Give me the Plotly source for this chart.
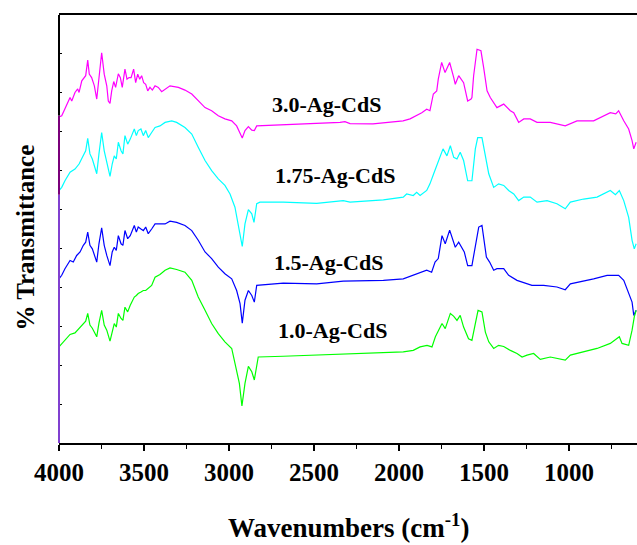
import plotly.graph_objects as go

# ---- data (wavenumber cm^-1, % transmittance with vertical offsets) ----
w_30 = [4000, 3984, 3965, 3935, 3925, 3906, 3890, 3882, 3866, 3851, 3843, 3831, 3822, 3808, 3792, 3778,
        3765, 3749, 3734, 3719, 3710, 3700, 3690, 3678, 3667, 3651, 3639, 3628, 3612, 3600, 3588, 3576,
        3561, 3549, 3537, 3525, 3514, 3502, 3490, 3478, 3465, 3451, 3435, 3416, 3396, 3376, 3347, 3298,
        3259, 3219, 3181, 3141, 3102, 3063, 3024, 2984, 2955, 2935, 2922, 2906, 2886, 2866, 2851, 2837,
        2681, 2484, 2347, 2318, 2288, 2153, 2053, 1976, 1935, 1896, 1866, 1837, 1818, 1798, 1778, 1769,
        1749, 1729, 1702, 1678, 1669, 1649, 1620, 1596, 1576, 1571, 1561, 1541, 1518, 1502, 1482, 1463,
        1434, 1424, 1384, 1345, 1325, 1296, 1266, 1228, 1188, 1110, 1022, 953, 855, 796, 757, 725,
        708, 678, 649, 629, 619, 605]
t_30 = [83.8, 84.1, 85.9, 88.8, 87.9, 90.1, 91.0, 90.1, 93.1, 93.9, 94.4, 98.4, 94.8, 93.9, 91.8, 88.4,
        93.9, 100.3, 94.8, 91.8, 87.9, 87.3, 90.5, 92.9, 91.4, 94.9, 93.9, 91.4, 96.1, 93.5, 93.9, 93.9,
        96.1, 92.6, 94.8, 93.5, 94.4, 92.6, 92.2, 90.5, 91.4, 90.7, 91.8, 91.4, 90.3, 90.9, 91.8, 91.4,
        90.7, 89.7, 87.9, 86.2, 85.4, 84.1, 83.3, 82.8, 81.5, 79.4, 78.4, 80.3, 81.3, 80.4, 80.3, 81.5,
        81.8, 82.0, 82.4, 82.6, 82.1, 82.0, 82.4, 82.8, 83.3, 84.1, 84.9, 85.8, 85.4, 89.7, 90.5, 93.5,
        97.8, 95.2, 97.8, 93.9, 92.2, 94.4, 92.6, 87.9, 88.4, 88.8, 94.4, 101.2, 100.8, 96.5, 90.5, 88.8,
        86.7, 86.2, 87.1, 85.4, 84.9, 82.4, 83.3, 83.3, 82.4, 82.4, 81.5, 82.8, 82.8, 84.1, 84.9, 84.6,
        85.4, 82.8, 80.7, 77.7, 75.6, 77.3]

w_175 = [4000, 3984, 3965, 3935, 3906, 3882, 3863, 3843, 3831, 3818, 3804, 3778, 3765, 3749, 3734, 3719,
         3700, 3687, 3675, 3663, 3651, 3635, 3624, 3612, 3596, 3581, 3557, 3545, 3534, 3518, 3504, 3490,
         3475, 3455, 3435, 3406, 3376, 3337, 3308, 3259, 3219, 3181, 3141, 3102, 3063, 3024, 2994, 2965,
         2945, 2922, 2906, 2886, 2866, 2853, 2837, 2818, 2681, 2484, 2328, 2288, 2092, 1975, 1955, 1916,
         1896, 1876, 1837, 1818, 1796, 1741, 1718, 1698, 1678, 1659, 1640, 1620, 1596, 1571, 1551, 1537,
         1512, 1492, 1472, 1443, 1414, 1384, 1355, 1325, 1296, 1266, 1228, 1188, 1129, 1071, 1022, 992,
         914, 835, 757, 727, 704, 678, 649, 629, 616, 605]
t_175 = [64.9, 65.7, 67.4, 69.6, 70.4, 71.7, 73.4, 75.1, 78.3, 74.3, 73.0, 69.2, 74.3, 79.8, 75.1, 72.1,
         68.5, 71.7, 73.8, 73.0, 77.3, 75.1, 74.3, 79.0, 76.8, 78.1, 80.7, 79.0, 80.3, 80.7, 79.0, 80.3,
         78.5, 79.8, 81.1, 81.5, 82.4, 82.8, 82.4, 81.1, 79.4, 76.0, 72.6, 70.0, 67.9, 66.2, 64.0, 60.6,
         56.3, 50.5, 56.3, 60.0, 58.9, 56.7, 61.5, 61.9, 61.9, 61.6, 62.3, 61.9, 62.5, 63.2, 64.0, 63.6,
         64.4, 63.6, 64.9, 66.6, 69.2, 75.6, 73.8, 76.4, 73.4, 73.0, 74.7, 72.6, 67.4, 67.4, 75.6, 78.5,
         78.5, 73.4, 69.2, 65.7, 66.6, 66.2, 64.9, 64.0, 62.3, 63.2, 63.2, 61.9, 62.3, 61.5, 60.2, 61.9,
         62.7, 63.2, 64.9, 63.8, 64.9, 62.3, 58.0, 52.1, 49.9, 51.2]

w_15 = [4000, 3984, 3965, 3935, 3916, 3896, 3876, 3857, 3843, 3831, 3818, 3804, 3778, 3765, 3749, 3734,
        3719, 3700, 3687, 3675, 3663, 3651, 3635, 3624, 3612, 3596, 3581, 3557, 3545, 3534, 3518, 3504,
        3490, 3475, 3455, 3435, 3406, 3376, 3347, 3308, 3259, 3219, 3181, 3141, 3102, 3063, 3024, 2984,
        2955, 2935, 2922, 2906, 2886, 2866, 2851, 2837, 2681, 2484, 2328, 2092, 1975, 1916, 1876, 1837,
        1808, 1788, 1769, 1747, 1728, 1702, 1669, 1649, 1616, 1596, 1571, 1551, 1531, 1512, 1486, 1467,
        1443, 1424, 1384, 1355, 1306, 1218, 1149, 1071, 1022, 992, 934, 855, 776, 708, 678, 649,
        629, 619, 605]
t_15 = [42.2, 43.1, 44.8, 46.9, 46.5, 48.2, 49.1, 50.8, 51.6, 54.2, 50.8, 49.9, 46.5, 51.2, 55.3, 50.8,
        48.2, 45.6, 49.1, 50.3, 49.5, 53.3, 51.2, 50.8, 54.6, 52.5, 53.3, 55.9, 54.2, 55.5, 55.0, 54.6,
        55.5, 53.8, 55.0, 56.3, 56.3, 56.3, 57.0, 56.7, 55.9, 54.6, 52.1, 49.1, 47.4, 45.2, 43.5, 42.2,
        39.2, 35.8, 30.8, 36.7, 39.2, 37.9, 36.2, 40.5, 41.1, 40.9, 41.6, 41.8, 42.2, 43.1, 43.9, 44.4,
        43.9, 46.5, 47.4, 53.3, 51.2, 54.7, 50.3, 51.6, 49.1, 45.6, 45.6, 50.8, 55.5, 55.9, 47.8, 46.5,
        44.4, 44.8, 44.8, 43.1, 41.8, 40.5, 40.5, 40.1, 39.4, 40.9, 41.4, 42.2, 43.1, 43.1, 41.8, 38.4,
        36.2, 32.8, 34.1]

w_10 = [4000, 3965, 3935, 3906, 3882, 3857, 3843, 3831, 3818, 3804, 3778, 3765, 3749, 3734, 3719, 3700,
        3687, 3675, 3663, 3651, 3635, 3624, 3612, 3596, 3581, 3557, 3545, 3534, 3518, 3504, 3490, 3475,
        3455, 3435, 3406, 3376, 3347, 3308, 3259, 3219, 3181, 3141, 3102, 3063, 3024, 2984, 2955, 2939,
        2924, 2906, 2886, 2866, 2851, 2828, 2681, 2484, 2328, 2092, 1975, 1916, 1876, 1835, 1806, 1786,
        1747, 1728, 1698, 1679, 1659, 1640, 1620, 1591, 1571, 1551, 1535, 1512, 1492, 1472, 1443, 1414,
        1384, 1345, 1306, 1276, 1247, 1208, 1169, 1110, 1022, 992, 914, 835, 757, 704, 688, 649,
        629, 616, 605]
t_10 = [24.7, 26.4, 27.9, 28.3, 29.4, 30.7, 31.3, 33.3, 30.3, 29.5, 27.3, 30.8, 34.1, 30.3, 29.0, 26.2,
        29.0, 30.7, 29.8, 33.3, 32.0, 31.5, 34.9, 33.7, 35.4, 37.5, 37.9, 38.4, 38.8, 39.2, 39.2, 39.7,
        40.5, 42.6, 43.3, 44.4, 45.0, 44.6, 43.9, 41.8, 37.5, 34.1, 30.7, 28.1, 26.0, 24.3, 18.7, 15.3,
        9.5, 15.3, 19.7, 18.3, 16.2, 22.1, 22.3, 22.6, 23.0, 23.2, 23.4, 23.8, 24.7, 25.1, 24.7, 27.3,
        30.7, 29.4, 33.3, 32.6, 31.5, 32.8, 29.8, 26.8, 26.4, 30.7, 34.1, 33.7, 28.5, 26.0, 24.3, 25.1,
        24.8, 23.8, 23.0, 22.1, 22.6, 23.0, 21.5, 22.1, 21.3, 22.6, 23.4, 24.3, 25.6, 27.3, 25.6, 25.1,
        29.0, 32.4, 34.1]

names = ["3.0-Ag-CdS", "1.75-Ag-CdS", "1.5-Ag-CdS", "1.0-Ag-CdS"]
colors = ["#ff00ff", "#00ffff", "#0000ff", "#00ff00"]
label_w = [2424, 2377, 2412, 2391]
label_t = [86.9, 68.7, 46.5, 29.0]

x_ticks = [4000, 3500, 3000, 2500, 2000, 1500, 1000]

series = [(w_30, t_30), (w_175, t_175), (w_15, t_15), (w_10, t_10)]

fig = go.Figure()
for (w, t), nm, c in zip(series, names, colors):
    fig.add_trace(go.Scatter(x=w, y=t, mode="lines", name=nm,
                             line=dict(color=c, width=1.2), showlegend=False))

serif = "Liberation Serif, Times New Roman, serif"
for nm, xw, yt in zip(names, label_w, label_t):
    fig.add_annotation(x=xw, y=yt, xref="x", yref="y", text=nm, showarrow=False,
                       font=dict(family=serif, size=22, color="black", weight="bold"))

fig.add_annotation(xref="paper", yref="paper", x=-0.057, y=0.48, text="% Transmittance",
                   textangle=-90, showarrow=False, xanchor="center", yanchor="middle",
                   font=dict(family=serif, size=25, color="black", weight="bold"))
fig.add_annotation(xref="paper", yref="paper", x=0.5, y=-0.195, text="Wavenumbers (cm<sup>-1</sup>)",
                   showarrow=False, xanchor="center", yanchor="middle",
                   font=dict(family=serif, size=27, color="black", weight="bold"))

# left axis line colouring
fig.add_shape(type="line", xref="paper", yref="paper", x0=0, x1=0, y0=0, y1=0.58,
              line=dict(color="#8040d0", width=2))
fig.add_shape(type="line", xref="paper", yref="paper", x0=0, x1=0, y0=0.58, y1=0.765,
              line=dict(color="#7a007a", width=2))
fig.add_shape(type="line", xref="paper", yref="paper", x0=0, x1=0, y0=0.765, y1=1,
              line=dict(color="black", width=2))

fig.update_layout(
    width=637, height=545,
    margin=dict(l=59, r=0, t=15, b=102),
    plot_bgcolor="white", paper_bgcolor="white",
    xaxis=dict(range=[4000, 600], tickvals=x_ticks, ticks="outside", ticklen=6, tickwidth=1.5,
               tickcolor="black", showline=True, linecolor="black", linewidth=1.5, mirror=True,
               showgrid=False, zeroline=False,
               tickfont=dict(family=serif, size=25, color="black", weight="bold"),
               minor=dict(dtick=250, tick0=0, ticks="outside", ticklen=4, tickcolor="black", tickwidth=1.2)),
    yaxis=dict(range=[0, 110], dtick=10, tick0=0, ticks="inside", ticklen=3, tickcolor="black",
               showticklabels=False, showline=False, showgrid=False, zeroline=False),
)

fig.write_html("out.html")
